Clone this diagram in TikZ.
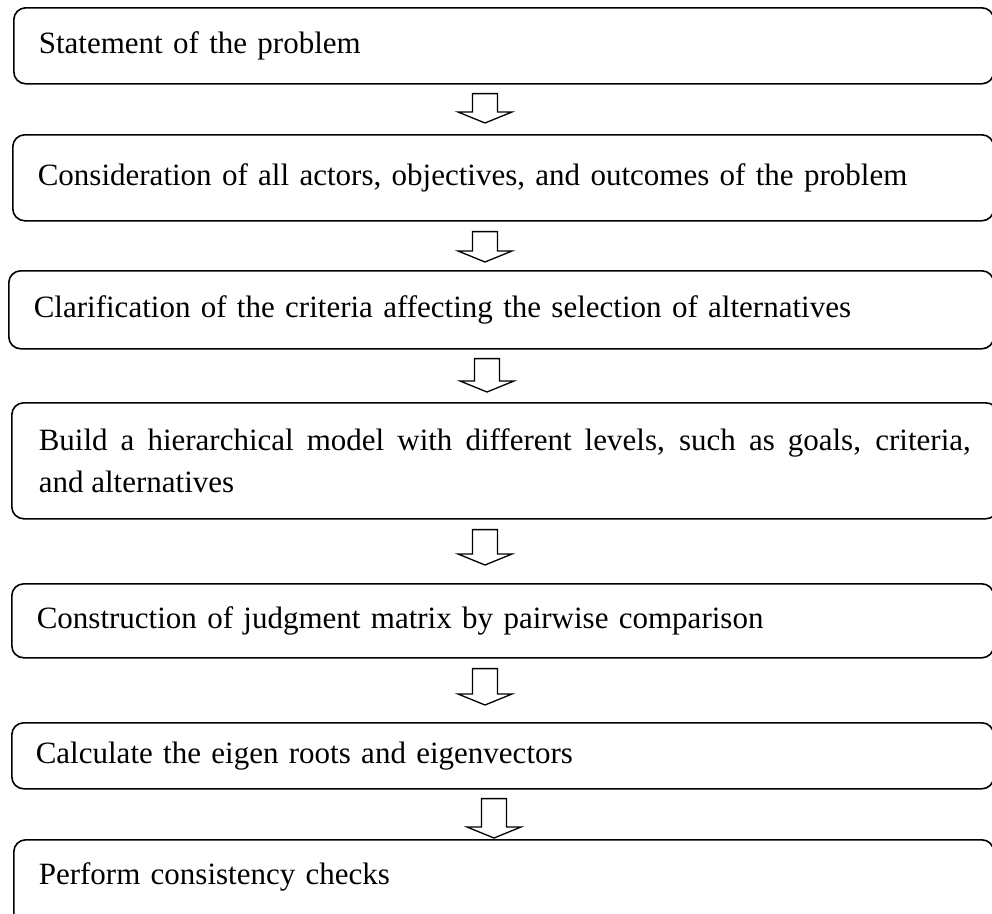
\documentclass[tikz,border=0pt]{standalone}
\usepackage{fontspec}
\setmainfont{Liberation Serif}
\usetikzlibrary{calc}
\tikzset{
  stepbox/.style={draw=black, line width=1.6pt, rounded corners=12pt,
    anchor=north west, inner xsep=25pt, inner ysep=0pt, align=left,
    font=\fontsize{31pt}{42pt}\selectfont},
  fatarrow/.style={draw=black, line width=1.3pt, fill=white, line join=miter}
}
% #1 from node, #2 to node, #3 x (pt), #4 gap below upper box, #5 gap above lower box
\newcommand\downarrowshape[5]{%
  \draw[fatarrow] let \p1=(#1.south), \p2=(#2.north) in
    ({#3pt-12.5pt},{\y1-#4pt}) -- ({#3pt+12.5pt},{\y1-#4pt})
    -- ({#3pt+12.5pt},{\y2+#5pt+11pt}) -- ({#3pt+27pt},{\y2+#5pt+11pt})
    -- ({#3pt},{\y2+#5pt}) -- ({#3pt-27pt},{\y2+#5pt+11pt})
    -- ({#3pt-12.5pt},{\y2+#5pt+11pt}) -- cycle;}
\begin{document}
\begin{tikzpicture}[x=1pt,y=-1pt]
\useasboundingbox (0,0) rectangle (992,913);
\node[stepbox, text width=930pt, minimum height=76pt] (b1) at (13,7) {Statement of the problem};
\node[stepbox, text width=931pt, minimum height=86pt] (b2) at (12,134) {Consideration of all actors, objectives, and outcomes of the problem};
\node[stepbox, text width=935pt, minimum height=78pt] (b3) at (8,270) {Clarification of the criteria affecting the selection of alternatives};
\node[stepbox, text width=932pt, minimum height=116pt, align=justify, inner xsep=27pt] (b4) at (11,402) {Build a hierarchical model with different levels, such as goals, criteria,\linebreak and alternatives};
\node[stepbox, text width=932pt, minimum height=74pt] (b5) at (11,583) {Construction of judgment matrix by pairwise comparison};
\node[stepbox, text width=934pt, minimum height=66pt, inner xsep=24pt] (b6) at (11,722) {Calculate the eigen roots and eigenvectors};
\node[stepbox, text width=930pt, minimum height=92pt] (b7) at (13,839) {\raisebox{9pt}[\height][\depth]{Perform consistency checks}};
\downarrowshape{b1}{b2}{485}{9}{11}
\downarrowshape{b2}{b3}{485}{10}{8}
\downarrowshape{b3}{b4}{487}{9}{10}
\downarrowshape{b4}{b5}{485}{10}{18}
\downarrowshape{b5}{b6}{485}{10}{17}
\downarrowshape{b6}{b7}{494}{9}{1}
\end{tikzpicture}
\end{document}
